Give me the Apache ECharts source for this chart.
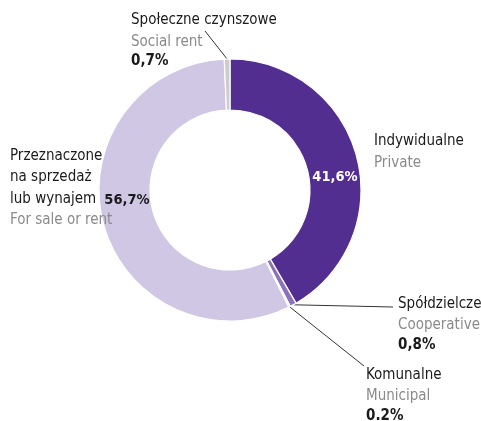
<!DOCTYPE html>
<html>
<head>
<meta charset="utf-8">
<script src="https://cdn.jsdelivr.net/npm/echarts@6/dist/echarts.min.js"></script>
<style>
html,body{margin:0;padding:0;background:#fff;}
#chart{width:481px;height:421px;}
</style>
</head>
<body>
<div id="chart"></div>
<script>
// ---- data ----
const namesPl = ['Indywidualne', 'Spółdzielcze', 'Komunalne', 'Przeznaczone\nna sprzedaż\nlub wynajem', 'Społeczne czynszowe'];
const namesEn = ['Private', 'Cooperative', 'Municipal', 'For sale or rent', 'Social rent'];
const values = [41.6, 0.8, 0.2, 56.7, 0.7];
const valueLabels = ['41,6%', '0,8%', '0.2%', '56,7%', '0,7%'];

// ---- styles / layout ----
const colors = ['#522e91', '#8a72bd', '#e4dfee', '#cfc7e3', '#cdcdcf'];
const FONT = '"DejaVu Sans Condensed", "Liberation Sans Narrow", sans-serif';
const FS = 15;
const LH = 21.5;
const LHV = 18;
const labelTopLeft = [[374, 130.5], [398, 293], [366, 364], [10, 145], [131, 9.5]];
const lineEnd = [null, [393, 307], [364, 366], null, [205, 31]];
const innerLabelCenter = [[335, 177], null, null, [127, 200], null];
const CENTER = [230, 190];
const RADIUS = [80, 131];

const chart = echarts.init(document.getElementById('chart'), null, {renderer: 'canvas'});

const outerData = values.map((v, i) => ({
  name: namesPl[i],
  value: v,
  itemStyle: {color: colors[i]},
  labelLine: {show: lineEnd[i] !== null}
}));

const innerData = values.map((v, i) => ({
  name: namesPl[i],
  value: v,
  label: {show: v > 10, color: i === 0 ? '#ffffff' : '#1a1a1a'}
}));

function outerFormatter(p) {
  const i = p.dataIndex;
  const pl = namesPl[i].split('\n').map(s => '{pl|' + s + '}').join('\n');
  let s = pl + '\n{en|' + namesEn[i] + '}';
  if (values[i] <= 10) s += '\n{v|' + valueLabels[i] + '}';
  return s;
}

const option = {
  animation: false,
  series: [
    {
      type: 'pie',
      center: CENTER,
      radius: RADIUS,
      startAngle: 90,
      clockwise: true,
      avoidLabelOverlap: false,
      itemStyle: {borderColor: '#ffffff', borderWidth: 1.2},
      label: {
        show: true,
        position: 'outside',
        formatter: outerFormatter,
        fontFamily: FONT,
        rich: {
          pl: {fontFamily: FONT, fontSize: FS, lineHeight: LH, color: '#1a1a1a'},
          en: {fontFamily: FONT, fontSize: FS, lineHeight: LH, color: '#8a8a8a'},
          v: {fontFamily: FONT, fontSize: FS, lineHeight: LHV, color: '#1a1a1a', fontWeight: 'bold'}
        }
      },
      labelLine: {lineStyle: {color: '#333333', width: 1}},
      labelLayout: function (params) {
        const i = params.dataIndex;
        const res = {x: labelTopLeft[i][0], y: labelTopLeft[i][1], align: 'left', verticalAlign: 'top'};
        if (lineEnd[i] && params.labelLinePoints) {
          const p0 = params.labelLinePoints[0];
          const e = lineEnd[i];
          res.labelLinePoints = [p0, [(p0[0] + e[0]) / 2, (p0[1] + e[1]) / 2], e];
        }
        return res;
      },
      emphasis: {disabled: true},
      data: outerData
    },
    {
      type: 'pie',
      center: CENTER,
      radius: RADIUS,
      startAngle: 90,
      clockwise: true,
      silent: true,
      itemStyle: {color: 'transparent', borderWidth: 0},
      label: {
        position: 'inside',
        formatter: p => valueLabels[p.dataIndex],
        fontFamily: FONT,
        fontSize: 14.5,
        fontWeight: 'bold'
      },
      labelLine: {show: false},
      labelLayout: function (params) {
        const c = innerLabelCenter[params.dataIndex];
        if (!c) return {};
        return {x: c[0], y: c[1], align: 'center', verticalAlign: 'middle'};
      },
      emphasis: {disabled: true},
      data: innerData
    }
  ]
};
chart.setOption(option);
</script>
</body>
</html>
